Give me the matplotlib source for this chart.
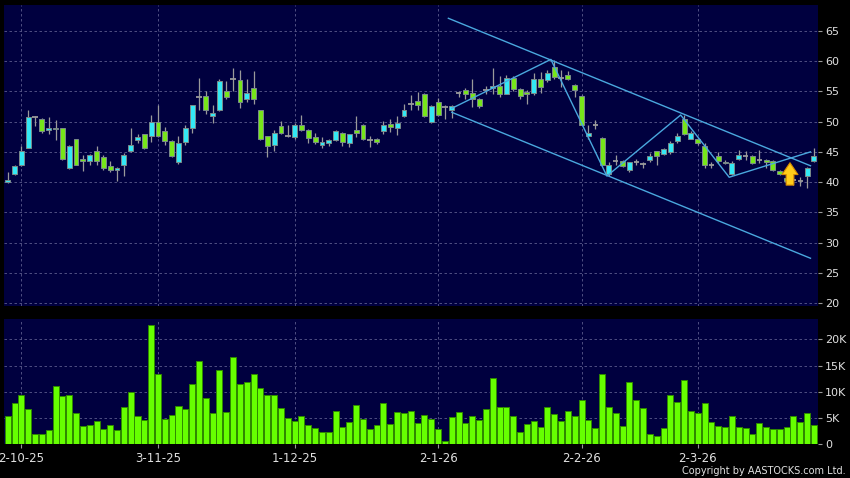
"""Candlestick chart with volume panel, AASTOCKS style."""

import matplotlib
matplotlib.use("Agg")
import matplotlib.pyplot as plt
import numpy as np

# --- data -------------------------------------------------------------
opens = [40.0, 41.3, 42.9, 45.7, 50.8, 50.5, 48.6, 49.0, 48.9, 42.4,
         47.1, 43.8, 43.5, 45.2, 44.2, 42.6, 42.0, 42.9, 45.1, 46.9,
         47.9, 47.6, 49.9, 48.4, 46.8, 43.3, 46.6, 49.0, 54.1, 54.3,
         51.0, 52.0, 55.1, 57.0, 56.9, 53.7, 55.5, 52.0, 47.6, 46.1,
         49.2, 47.6, 47.4, 49.4, 48.7, 47.5, 46.1, 46.4, 46.9, 48.2,
         46.4, 48.65, 49.5, 46.9, 47.2, 48.4, 49.55, 49.0, 50.9, 53.0,
         53.45, 54.5, 50.0, 53.3, 52.5, 51.9, 54.6, 55.2, 54.8, 53.8,
         55.2, 55.5, 55.9, 54.6, 57.3, 55.4, 54.9, 54.7, 57.0, 56.9,
         59.1, 57.2, 57.8, 56.0, 54.3, 47.55, 49.5, 47.3, 41.4, 43.5,
         43.5, 42.0, 43.35, 43.0, 43.6, 45.1, 44.6, 45.0, 46.8, 50.5,
         47.2, 47.2, 46.0, 42.9, 44.35, 43.4, 41.4, 43.75, 44.3, 44.35,
         43.6, 43.6, 43.5, 41.9, 40.7, 40.3, 40.2, 41.0, 43.5]
highs = [41.6, 42.8, 46.0, 51.9, 50.9, 50.6, 50.8, 50.3, 49.0, 46.1,
         47.2, 44.5, 44.6, 45.9, 44.4, 43.5, 42.5, 44.8, 48.9, 47.9,
         48.0, 51.1, 52.7, 49.1, 47.0, 47.7, 49.4, 52.8, 57.2, 55.1,
         52.7, 57.0, 56.8, 58.8, 58.5, 57.1, 58.4, 52.0, 47.7, 48.6,
         50.1, 49.4, 49.7, 51.1, 48.8, 48.1, 47.4, 47.2, 48.6, 48.3,
         48.0, 50.9, 49.6, 47.6, 47.3, 50.1, 50.4, 51.0, 53.0, 54.4,
         54.9, 54.7, 52.7, 53.9, 52.7, 52.7, 55.0, 55.5, 57.0, 53.9,
         55.9, 58.9, 57.6, 57.7, 57.6, 55.5, 55.2, 58.1, 58.2, 58.5,
         60.2, 58.5, 58.3, 56.2, 54.4, 49.5, 50.3, 47.4, 43.3, 44.4,
         43.6, 43.4, 43.9, 43.3, 44.8, 45.2, 45.6, 46.8, 48.1, 51.1,
         48.4, 47.3, 46.5, 43.3, 44.9, 43.6, 43.5, 45.3, 45.2, 44.4,
         45.3, 43.9, 43.7, 42.0, 41.0, 41.2, 40.9, 42.5, 45.6]
lows = [39.8, 41.2, 42.6, 45.6, 49.2, 48.1, 47.9, 47.0, 43.6, 42.1,
        42.8, 41.9, 42.8, 42.9, 42.0, 41.7, 40.2, 41.0, 45.0, 46.4,
        45.5, 46.7, 47.5, 46.1, 44.2, 43.0, 46.1, 48.2, 52.0, 51.2,
        49.7, 51.8, 53.7, 55.1, 52.3, 53.2, 53.0, 47.0, 44.2, 45.2,
        48.0, 47.4, 47.1, 48.4, 46.5, 46.3, 45.7, 45.9, 46.8, 46.0,
        45.8, 47.5, 47.0, 45.8, 46.3, 47.9, 48.3, 47.8, 50.8, 51.9,
        51.9, 50.8, 49.8, 50.9, 50.4, 50.6, 54.1, 53.8, 52.5, 52.2,
        54.5, 54.6, 54.0, 54.5, 55.0, 53.8, 53.0, 54.4, 54.8, 56.6,
        57.0, 55.8, 56.9, 54.0, 49.4, 47.2, 48.8, 42.7, 41.0, 42.8,
        42.5, 41.7, 42.8, 42.4, 43.4, 42.8, 44.4, 44.7, 46.4, 47.8,
        47.1, 46.2, 42.3, 42.3, 43.1, 43.0, 41.2, 43.6, 43.6, 43.0,
        43.1, 42.3, 41.9, 41.2, 39.9, 39.6, 39.3, 39.1, 43.4]
closes = [40.3, 42.6, 45.1, 50.8, 50.7, 48.5, 49.0, 48.8, 43.9, 46.0,
          42.9, 43.5, 44.4, 43.5, 42.3, 42.0, 42.4, 44.5, 46.2, 47.4,
          45.7, 49.9, 47.7, 46.8, 44.4, 46.5, 48.9, 52.7, 54.1, 51.9,
          51.5, 56.8, 54.0, 57.0, 53.2, 54.7, 53.7, 47.2, 45.9, 48.1,
          48.2, 47.6, 49.4, 48.7, 47.3, 46.6, 46.6, 47.0, 48.4, 46.6,
          47.9, 48.2, 47.05, 46.9, 46.7, 49.4, 49.1, 49.8, 52.0, 53.0,
          52.7, 51.0, 52.6, 51.1, 52.5, 52.6, 54.7, 54.5, 53.8, 52.6,
          55.2, 55.9, 54.5, 57.2, 55.4, 54.2, 54.6, 57.0, 55.7, 58.1,
          57.4, 57.2, 57.0, 55.2, 49.5, 48.2, 49.5, 42.9, 42.9, 43.5,
          42.6, 43.35, 43.35, 43.0, 44.3, 44.3, 45.4, 46.4, 47.6, 47.9,
          48.2, 46.5, 42.75, 42.9, 43.5, 43.1, 43.1, 44.4, 44.3, 43.2,
          43.6, 43.35, 42.0, 41.3, 40.1, 40.3, 40.2, 42.3, 44.3]
volumes_k = [5.3, 7.8, 9.4, 6.7, 2.0, 1.9, 2.6, 11.1, 9.2, 9.4,
             6.0, 3.5, 3.6, 4.4, 2.8, 3.7, 2.7, 7.0, 10.0, 5.3,
             4.6, 22.8, 13.3, 4.7, 5.6, 7.3, 6.6, 11.4, 15.9, 8.7,
             5.9, 14.1, 6.2, 16.7, 11.5, 11.9, 13.3, 10.8, 9.4, 9.4,
             6.8, 5.0, 4.4, 5.3, 3.6, 3.1, 2.3, 2.2, 6.4, 3.2,
             4.2, 7.4, 4.7, 2.9, 3.7, 7.8, 3.8, 6.2, 6.0, 6.3,
             4.0, 5.6, 4.7, 2.9, 0.5, 5.1, 6.2, 4.0, 5.3, 4.5,
             6.6, 12.6, 7.0, 7.0, 5.3, 2.2, 3.8, 4.4, 3.3, 7.0,
             5.8, 4.4, 6.3, 5.3, 8.4, 4.5, 3.0, 13.3, 7.0, 6.0,
             3.5, 11.8, 8.5, 6.9, 1.9, 1.6, 3.1, 9.3, 8.0, 12.2,
             6.3, 5.9, 7.8, 4.3, 3.5, 3.3, 5.3, 3.3, 3.0, 2.0,
             4.0, 3.2, 2.9, 2.8, 3.2, 5.4, 4.2, 6.0, 3.7]

date_tick_idx = [2, 22, 42, 63, 84, 101]
date_tick_labels = ["2-10-25", "3-11-25", "1-12-25", "2-1-26", "2-2-26", "2-3-26"]
price_ticks = [20, 25, 30, 35, 40, 45, 50, 55, 60, 65]
vol_ticks = [0, 5, 10, 15, 20]
vol_tick_labels = ["0", "5K", "10K", "15K", "20K"]

# trend lines drawn on the chart: (bar index, price)
channel_upper = ([64.5, 117.5], [67.1, 42.7])
channel_lower = ([65.0, 117.5], [51.55, 27.4])
zigzag = ([65.0, 79.5, 87.7, 98.5, 105.6, 117.5],
          [52.2, 60.3, 41.0, 51.1, 40.8, 45.0])
signal_idx = 114.5
signal_low, signal_high = 39.5, 43.2

# --- style ------------------------------------------------------------
BG = "#000000"
PANEL = "#00003f"
GRID = "#5c5c8c"
UP = "#33e8f5"
DOWN = "#77e61a"
EDGE = "#7a8a8a"
WICK = "#9a9a9a"
LINE = "#4aa8de"
TXT = "#e0e0e0"

o = np.array(opens)
h = np.array(highs)
l = np.array(lows)
c = np.array(closes)
x = np.arange(len(o))

fig = plt.figure(figsize=(8.5, 4.78), dpi=100, facecolor=BG)
ax = fig.add_axes([4 / 850, 1 - 306 / 478, 814 / 850, 301 / 478])
axv = fig.add_axes([4 / 850, 1 - 444 / 478, 814 / 850, 125 / 478], sharex=ax)

for a in (ax, axv):
    a.set_facecolor(PANEL)
    for s in a.spines.values():
        s.set_visible(False)
    a.yaxis.tick_right()
    a.tick_params(axis="y", colors=WICK, labelcolor=TXT, labelsize=8,
                  length=3, width=0.8, pad=2)
    a.grid(True, color=GRID, linestyle=(0, (3, 3)), linewidth=0.6)
    a.set_axisbelow(True)

# candles
ax.vlines(x, l, h, color=WICK, linewidth=0.9, zorder=2)
doji = np.abs(c - o) < 0.12
up = (c > o) & ~doji
down = (c < o) & ~doji
ax.bar(x[up], (c - o)[up], bottom=o[up], width=0.72, color=UP,
       edgecolor=EDGE, linewidth=0.7, zorder=3)
ax.bar(x[down], (o - c)[down], bottom=c[down], width=0.72, color=DOWN,
       edgecolor=EDGE, linewidth=0.7, zorder=3)
ax.hlines(c[doji], x[doji] - 0.4, x[doji] + 0.4, color=WICK,
          linewidth=1.3, zorder=3)

# trend lines
ax.plot(*channel_upper, color=LINE, linewidth=1.0, zorder=4)
ax.plot(*channel_lower, color=LINE, linewidth=1.0, zorder=4)
ax.plot(*zigzag, color=LINE, linewidth=1.0, zorder=4)

# buy signal arrow
ax.annotate("", xy=(signal_idx, signal_high), xytext=(signal_idx, signal_low),
            arrowprops=dict(arrowstyle="simple,head_width=1.15,head_length=0.85,tail_width=0.55",
                            facecolor="#ffcc1a", edgecolor="#d88a00",
                            linewidth=0.8, mutation_scale=10,
                            shrinkA=0, shrinkB=0),
            zorder=5)

ax.set_ylim(19.5, 69.3)
ax.set_yticks(price_ticks)
ax.set_xlim(-0.54, 118.6)
ax.set_xticks(date_tick_idx)
ax.tick_params(axis="x", length=0, labelbottom=False)

# volume
axv.bar(x, volumes_k, width=0.88, color="#66ff00", edgecolor="#2f8a00",
        linewidth=0.7, zorder=3)
axv.set_ylim(0, 23.9)
axv.set_yticks(vol_ticks)
axv.set_yticklabels(vol_tick_labels)
axv.set_xticks(date_tick_idx)
axv.set_xticklabels(date_tick_labels)
axv.tick_params(axis="x", colors=WICK, labelcolor=TXT, labelsize=8.5,
                length=3, width=0.8, pad=3)

fig.text(846 / 850, 1 - 471 / 478, "Copyright by AASTOCKS.com Ltd.",
         color=TXT, fontsize=7, ha="right", va="center")

fig.savefig("out.png", dpi=100, facecolor=BG)
plt.close(fig)
